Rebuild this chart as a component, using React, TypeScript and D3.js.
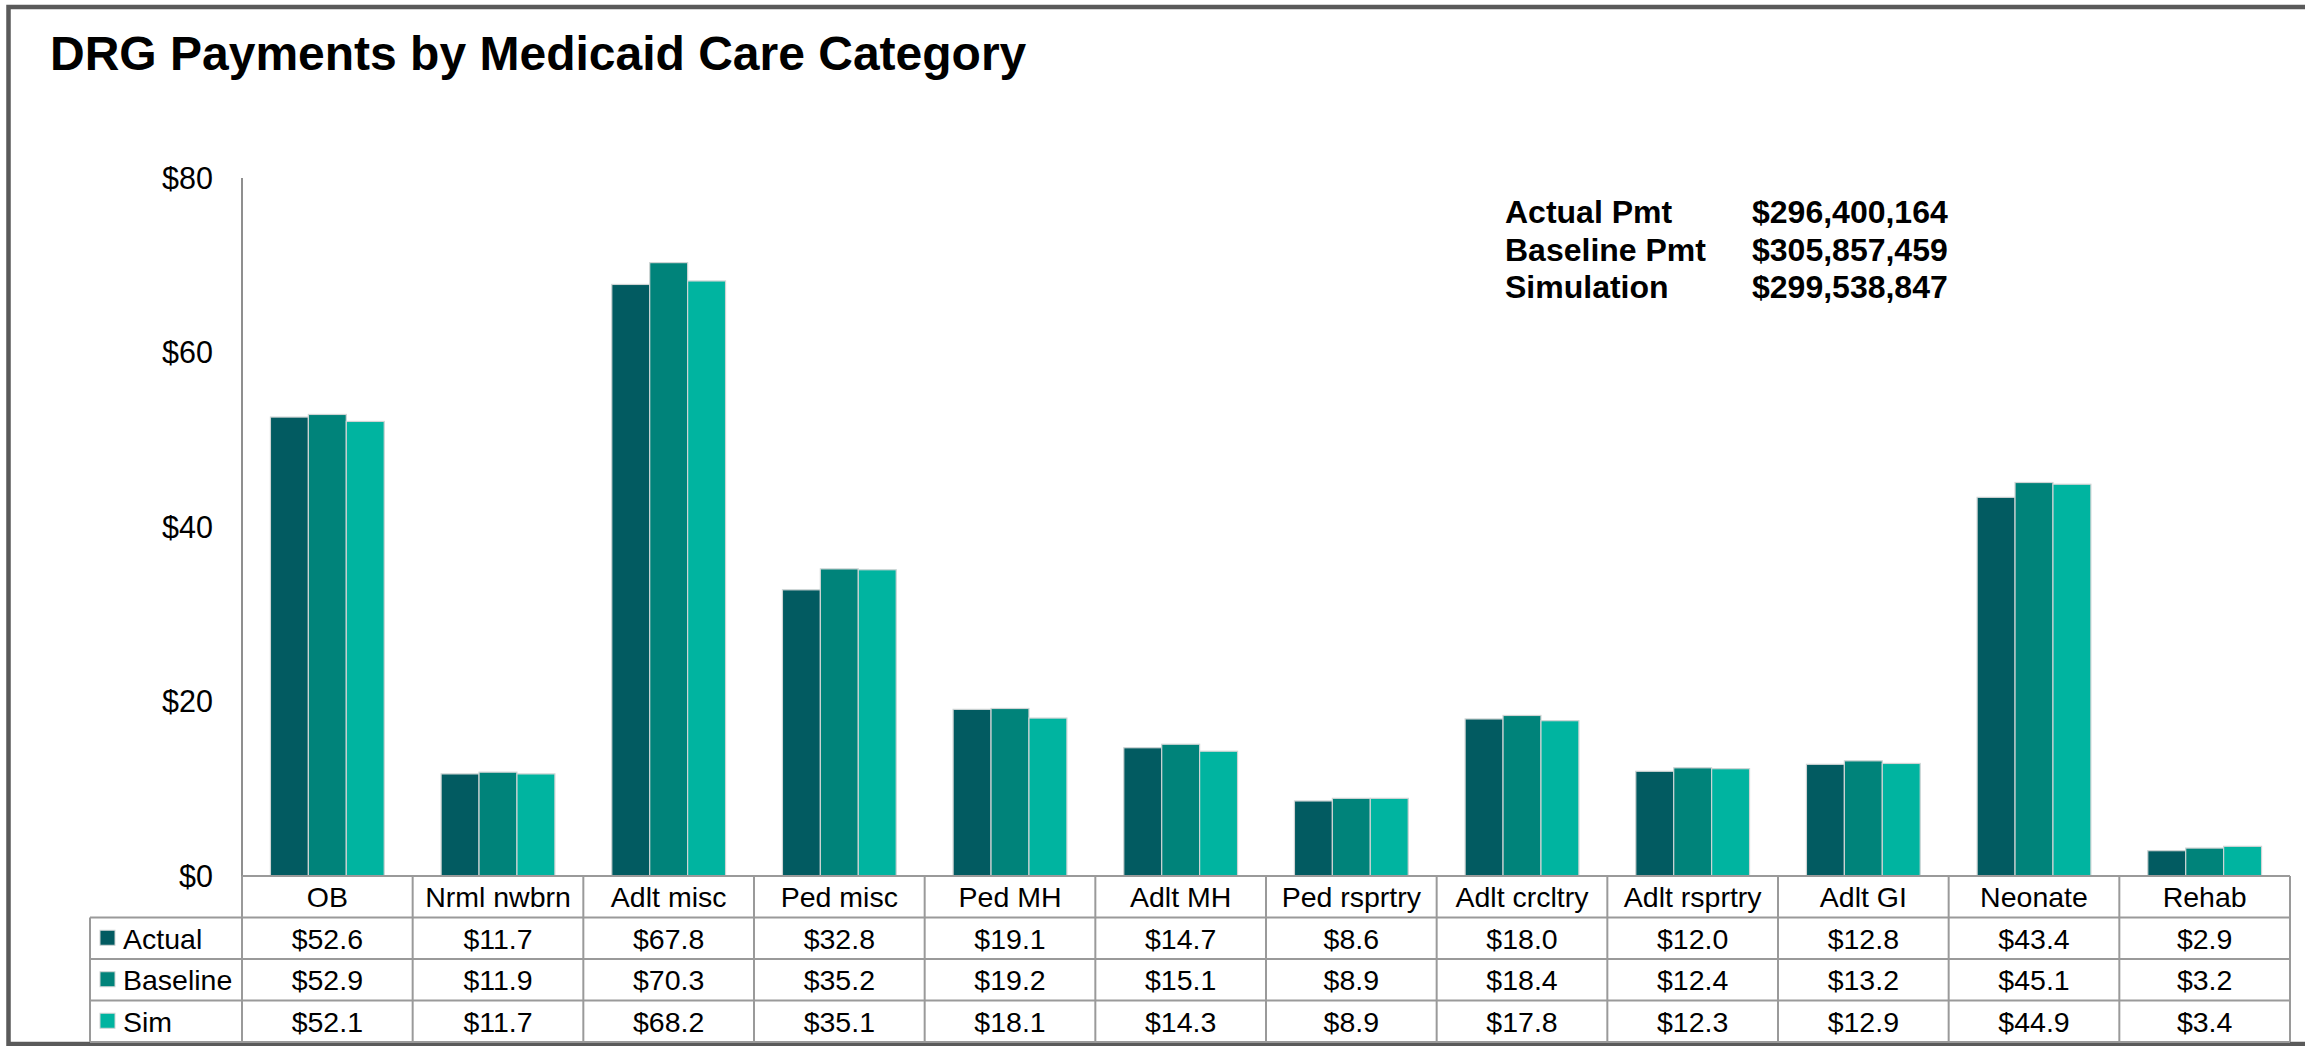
import React from "react";
import * as d3 from "d3";

const categories = ["OB", "Nrml nwbrn", "Adlt misc", "Ped misc", "Ped MH", "Adlt MH", "Ped rsprtry", "Adlt crcltry", "Adlt rsprtry", "Adlt GI", "Neonate", "Rehab"];
const seriesNames = ["Actual", "Baseline", "Sim"];
const actual = [52.6, 11.7, 67.8, 32.8, 19.1, 14.7, 8.6, 18.0, 12.0, 12.8, 43.4, 2.9];
const baseline = [52.9, 11.9, 70.3, 35.2, 19.2, 15.1, 8.9, 18.4, 12.4, 13.2, 45.1, 3.2];
const sim = [52.1, 11.7, 68.2, 35.1, 18.1, 14.3, 8.9, 17.8, 12.3, 12.9, 44.9, 3.4];
const yTicks = [0, 20, 40, 60, 80];
const summaryLabels = ["Actual Pmt", "Baseline Pmt", "Simulation"];
const summaryValues = ["$296,400,164", "$305,857,459", "$299,538,847"];
const colors = ["#025B61", "#00837A", "#00B4A0"];

const W = 2305;
const H = 1046;
const FONT = "'Liberation Sans', Arial, sans-serif";

export default function App() {
  const seriesValues = [actual, baseline, sim];
  const x0 = 242, x1 = 2290;
  const yTop = 178, yBase = 876;
  const y = d3.scaleLinear().domain([0, 80]).range([yBase, yTop]);
  const xBand = d3.scaleBand<string>().domain(categories).range([x0, x1]).paddingInner(0).paddingOuter(0);
  const bw = xBand.bandwidth();
  const xSub = d3.scaleBand<string>().domain(seriesNames).range([bw / 6, (bw * 5) / 6]).padding(0);
  const rowH = 41.5;
  const rowY = (r: number) => yBase + r * rowH; // r=0 category row top
  const tableLeft = 90;
  const fs = 28.5;
  const tickFs = 30.5;
  const lineColor = "#9a9a9a";

  return (
    <svg width={W} height={H} style={{ position: "absolute", left: 0, top: 0, background: "#fff" }} fontFamily={FONT}>
      <rect x={0} y={0} width={W} height={H} fill="#fff" />
      {/* frame */}
      <rect x={8.5} y={7} width={W + 20} height={1037} fill="none" stroke="#5a5a5a" strokeWidth={4.5} />
      <text x={50} y={70} fontSize={48} fontWeight="bold" fill="#000">DRG Payments by Medicaid Care Category</text>

      {/* y axis */}
      <line x1={x0} x2={x0} y1={yTop} y2={yBase} stroke="#8f8f8f" strokeWidth={2} />
      {yTicks.map((t) => (
        <text key={t} x={213} y={y(t) + tickFs * 0.36} textAnchor="end" fontSize={tickFs} fill="#000">{"$" + t}</text>
      ))}

      {/* bars */}
      {categories.map((c, i) => (
        <g key={c} transform={`translate(${xBand(c)},0)`}>
          {seriesNames.map((s, k) => (
            <rect key={s} x={xSub(s)!} y={y(seriesValues[k][i])} width={xSub.bandwidth()} height={yBase - y(seriesValues[k][i])}
              fill={colors[k]} stroke="#cfd4d4" strokeWidth={1.2} />
          ))}
        </g>
      ))}

      {/* summary */}
      {summaryLabels.map((l, i) => (
        <g key={l}>
          <text x={1505} y={223 + i * 37.5} fontSize={32} fontWeight="bold" fill="#000">{l}</text>
          <text x={1752} y={223 + i * 37.5} fontSize={32} fontWeight="bold" fill="#000">{summaryValues[i]}</text>
        </g>
      ))}

      {/* data table */}
      <g stroke={lineColor} strokeWidth={2} fill="none">
        <line x1={x0} x2={x1} y1={rowY(0)} y2={rowY(0)} />
        <line x1={tableLeft} x2={x1} y1={rowY(1)} y2={rowY(1)} />
        <line x1={tableLeft} x2={x1} y1={rowY(2)} y2={rowY(2)} />
        <line x1={tableLeft} x2={x1} y1={rowY(3)} y2={rowY(3)} />
        <line x1={tableLeft} x2={x1} y1={rowY(4)} y2={rowY(4)} />
        <line x1={tableLeft} x2={tableLeft} y1={rowY(1)} y2={rowY(4)} />
        <line x1={x0} x2={x0} y1={rowY(0)} y2={rowY(4)} />
        {categories.map((c) => (
          <line key={c} x1={xBand(c)! + bw} x2={xBand(c)! + bw} y1={rowY(0)} y2={rowY(4)} />
        ))}
      </g>
      {categories.map((c) => (
        <text key={c} x={xBand(c)! + bw / 2} y={rowY(0) + rowH / 2 + fs * 0.36} textAnchor="middle" fontSize={fs} fill="#000">{c}</text>
      ))}
      {seriesNames.map((s, k) => (
        <g key={s}>
          <rect x={100} y={rowY(k + 1) + rowH / 2 - 8} width={15} height={15} fill={colors[k]} stroke="#cfd4d4" strokeWidth={1} />
          <text x={123} y={rowY(k + 1) + rowH / 2 + fs * 0.36} fontSize={fs} fill="#000">{s}</text>
          {categories.map((c, i) => (
            <text key={c} x={xBand(c)! + bw / 2} y={rowY(k + 1) + rowH / 2 + fs * 0.36} textAnchor="middle" fontSize={fs} fill="#000">
              {"$" + seriesValues[k][i].toFixed(1)}
            </text>
          ))}
        </g>
      ))}
    </svg>
  );
}
